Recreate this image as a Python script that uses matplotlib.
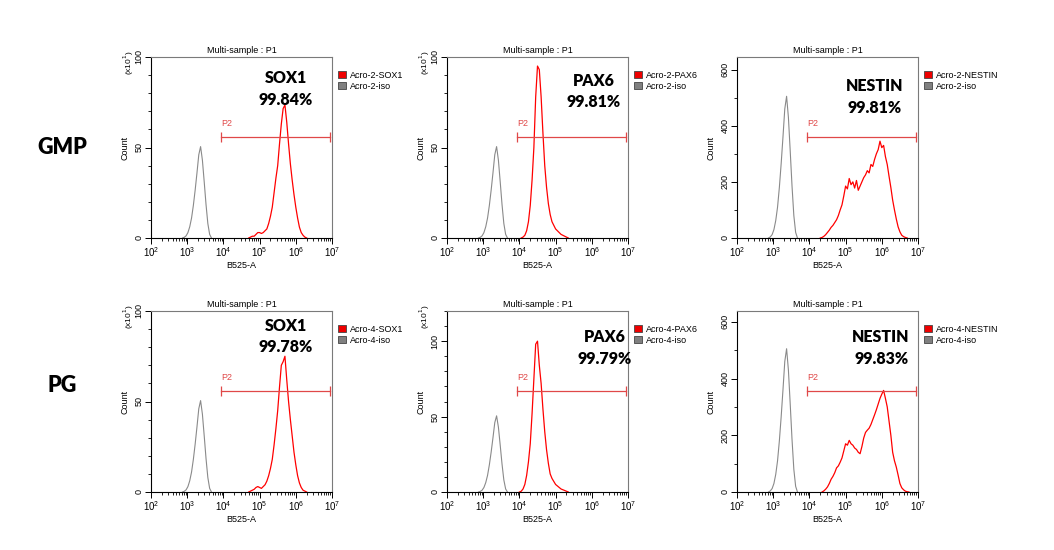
import numpy as np
import matplotlib
matplotlib.use('Agg')
import matplotlib.pyplot as plt
from matplotlib.patches import Patch
from matplotlib.ticker import LogLocator, MultipleLocator, FixedLocator

plt.rcParams['font.family'] = ['Liberation Sans', 'DejaVu Sans']

# histogram bins: log10 start of each curve, step 0.05 decade
STEP = 0.05

# isotype control (raw counts)
iso_start = 2.87
iso_counts = [0, 4, 12, 30, 62, 110, 180, 265, 360, 460, 505, 430, 310, 185, 80, 20, 0]

# GMP (Acro-2) marker curves, raw counts
gmp_sox1_start = 4.70
gmp_sox1 = [0, 5, 10, 10, 20, 30, 30, 25, 30, 40, 50, 80, 120, 170, 250, 330, 400, 520,
            630, 715, 735, 640, 520, 410, 320, 240, 170, 110, 60, 30, 15, 5, 0]
gmp_pax6_start = 4.05
gmp_pax6 = [0, 5, 15, 40, 90, 180, 320, 500, 780, 950, 930, 780, 580, 400, 280, 190, 130,
            90, 70, 50, 40, 30, 20, 15, 10, 5, 0]
gmp_nestin_start = 4.30
gmp_nestin = [0, 2, 6, 12, 20, 28, 38, 45, 55, 65, 80, 100, 118, 150, 185, 175, 212, 190,
              200, 178, 205, 170, 185, 200, 215, 225, 240, 232, 262, 255, 280, 300, 315,
              345, 322, 330, 290, 262, 220, 180, 135, 100, 68, 40, 22, 10, 5, 2, 0]

# PG (Acro-4) marker curves, raw counts
pg_sox1_start = 4.70
pg_sox1 = [0, 5, 10, 15, 25, 30, 25, 20, 30, 40, 60, 90, 130, 180, 260, 350, 450, 580,
           700, 720, 750, 620, 500, 400, 310, 220, 150, 90, 50, 25, 10, 5, 0]
pg_pax6_start = 4.00
pg_pax6 = [0, 5, 20, 50, 110, 200, 320, 520, 750, 980, 1000, 840, 720, 550, 400, 280, 190,
           120, 90, 70, 50, 40, 30, 20, 15, 10, 5, 0]
pg_nestin_start = 4.35
pg_nestin = [0, 4, 10, 18, 30, 45, 55, 68, 85, 92, 105, 120, 145, 170, 165, 182, 170, 165,
             155, 150, 140, 135, 160, 190, 210, 218, 225, 238, 255, 272, 290, 310, 330,
             345, 358, 330, 300, 250, 200, 140, 110, 88, 60, 30, 15, 8, 3, 1, 0]

markers = ['SOX1', 'PAX6', 'NESTIN']
gmp_pct = ['99.84%', '99.81%', '99.81%']
pg_pct = ['99.78%', '99.79%', '99.83%']
row_names = ['GMP', 'PG']
sample_ids = ['Acro-2', 'Acro-4']

# y range of each panel (display units), scale factor (10 -> "x10^1")
ylims = [[100, 100, 645], [100, 120, 638]]
yscale = [10, 10, 1]

# gate P2 (log10 range)
gate_lo, gate_hi = 3.94, 6.945
gate_frac = 0.556

# text positions (axes fraction) for marker name / percentage
txt_pos = [[(0.745, 0.886, 0.765), (0.81, 0.87, 0.75), (0.76, 0.84, 0.72)],
           [(0.745, 0.917, 0.80), (0.87, 0.856, 0.735), (0.796, 0.857, 0.737)]]

curves = [[(gmp_sox1_start, gmp_sox1), (gmp_pax6_start, gmp_pax6), (gmp_nestin_start, gmp_nestin)],
          [(pg_sox1_start, pg_sox1), (pg_pax6_start, pg_pax6), (pg_nestin_start, pg_nestin)]]
pcts = [gmp_pct, pg_pct]

fig = plt.figure(figsize=(10.54, 5.5), dpi=100)

lefts = [151, 447, 737]
tops = [57, 311]
W, H = 181, 181

RED = '#ff0000'
GRAY = '#8a8a8a'
GATE = '#e04848'
BOLD = ['Lato', 'DejaVu Sans']

for r in range(2):
    for c in range(3):
        x0 = lefts[c] / 1054.0
        y0 = 1 - (tops[r] + H) / 550.0
        ax = fig.add_axes([x0, y0, W / 1054.0, H / 550.0])

        s = yscale[c]
        ix = 10 ** (iso_start + STEP * np.arange(len(iso_counts)))
        ax.plot(ix, np.array(iso_counts) / s, color=GRAY, lw=0.8)
        st, cnt = curves[r][c]
        mx = 10 ** (st + STEP * np.arange(len(cnt)))
        ax.plot(mx, np.array(cnt) / s, color=RED, lw=0.9)

        ax.set_xscale('log')
        ax.set_xlim(1e2, 1e7)
        ymax = ylims[r][c]
        ax.set_ylim(0, ymax)

        # gate
        gy = gate_frac * ymax
        ax.plot([10 ** gate_lo, 10 ** gate_hi], [gy, gy], color=GATE, lw=0.9,
                marker='|', markersize=7, markeredgewidth=0.9)
        ax.text(10 ** gate_lo, gy + 0.05 * ymax, 'P2', color=GATE, fontsize=6.5,
                ha='left', va='bottom')

        # ticks
        ax.xaxis.set_major_locator(LogLocator(base=10, numticks=10))
        ax.xaxis.set_minor_locator(LogLocator(base=10, subs=np.arange(2, 10), numticks=20))
        if c == 2:
            ax.yaxis.set_major_locator(FixedLocator([0, 200, 400, 600]))
            ax.yaxis.set_minor_locator(MultipleLocator(100))
        else:
            ax.yaxis.set_major_locator(FixedLocator([0, 50, 100]))
            ax.yaxis.set_minor_locator(MultipleLocator(10))
        ax.tick_params(axis='both', which='major', length=4, width=0.7, labelsize=7, pad=1.5)
        ax.tick_params(axis='both', which='minor', length=2.5, width=0.6)
        ax.tick_params(axis='y', labelrotation=90, labelsize=6.5)
        for lab in ax.get_yticklabels():
            lab.set_va('center')

        for sp in ['left', 'bottom']:
            ax.spines[sp].set_color('black')
            ax.spines[sp].set_linewidth(0.8)
        for sp in ['top', 'right']:
            ax.spines[sp].set_color('#7a7a7a')
            ax.spines[sp].set_linewidth(0.8)

        ax.set_title('Multi-sample : P1', fontsize=6.5, pad=3)
        ax.set_xlabel('B525-A', fontsize=6.5, labelpad=1)
        ax.set_ylabel('Count', fontsize=6.5)
        ax.yaxis.set_label_coords(-0.118, 0.5)
        if s == 10:
            ax.text(-0.125, 0.97, r'(x10$^1$)', transform=ax.transAxes, rotation=90,
                    fontsize=6, ha='center', va='center')

        # marker annotation
        tx, ty1, ty2 = txt_pos[r][c]
        ax.text(tx, ty1, markers[c], transform=ax.transAxes, ha='center', va='center',
                fontsize=11.5, fontweight='heavy', family=BOLD, color='black')
        ax.text(tx, ty2, pcts[r][c], transform=ax.transAxes, ha='center', va='center',
                fontsize=11.5, fontweight='heavy', family=BOLD, color='black')

        # legend
        handles = [Patch(facecolor='#ee0000', edgecolor='#444444', lw=0.6),
                   Patch(facecolor='#808080', edgecolor='#444444', lw=0.6)]
        labels = [sample_ids[r] + '-' + markers[c], sample_ids[r] + '-iso']
        ax.legend(handles, labels, loc='upper left', bbox_to_anchor=(1.035, 0.925),
                  frameon=False, fontsize=6.5, handlelength=0.85, handleheight=0.85,
                  handletextpad=0.4, labelspacing=0.25, borderaxespad=0, borderpad=0)

# row labels
fig.text(62 / 1054.0, 1 - 147 / 550.0, row_names[0], ha='center', va='center',
         fontsize=15.5, fontweight='heavy', family=BOLD)
fig.text(62 / 1054.0, 1 - 385 / 550.0, row_names[1], ha='center', va='center',
         fontsize=15.5, fontweight='heavy', family=BOLD)

fig.savefig('out.png', dpi=100, facecolor='white')
